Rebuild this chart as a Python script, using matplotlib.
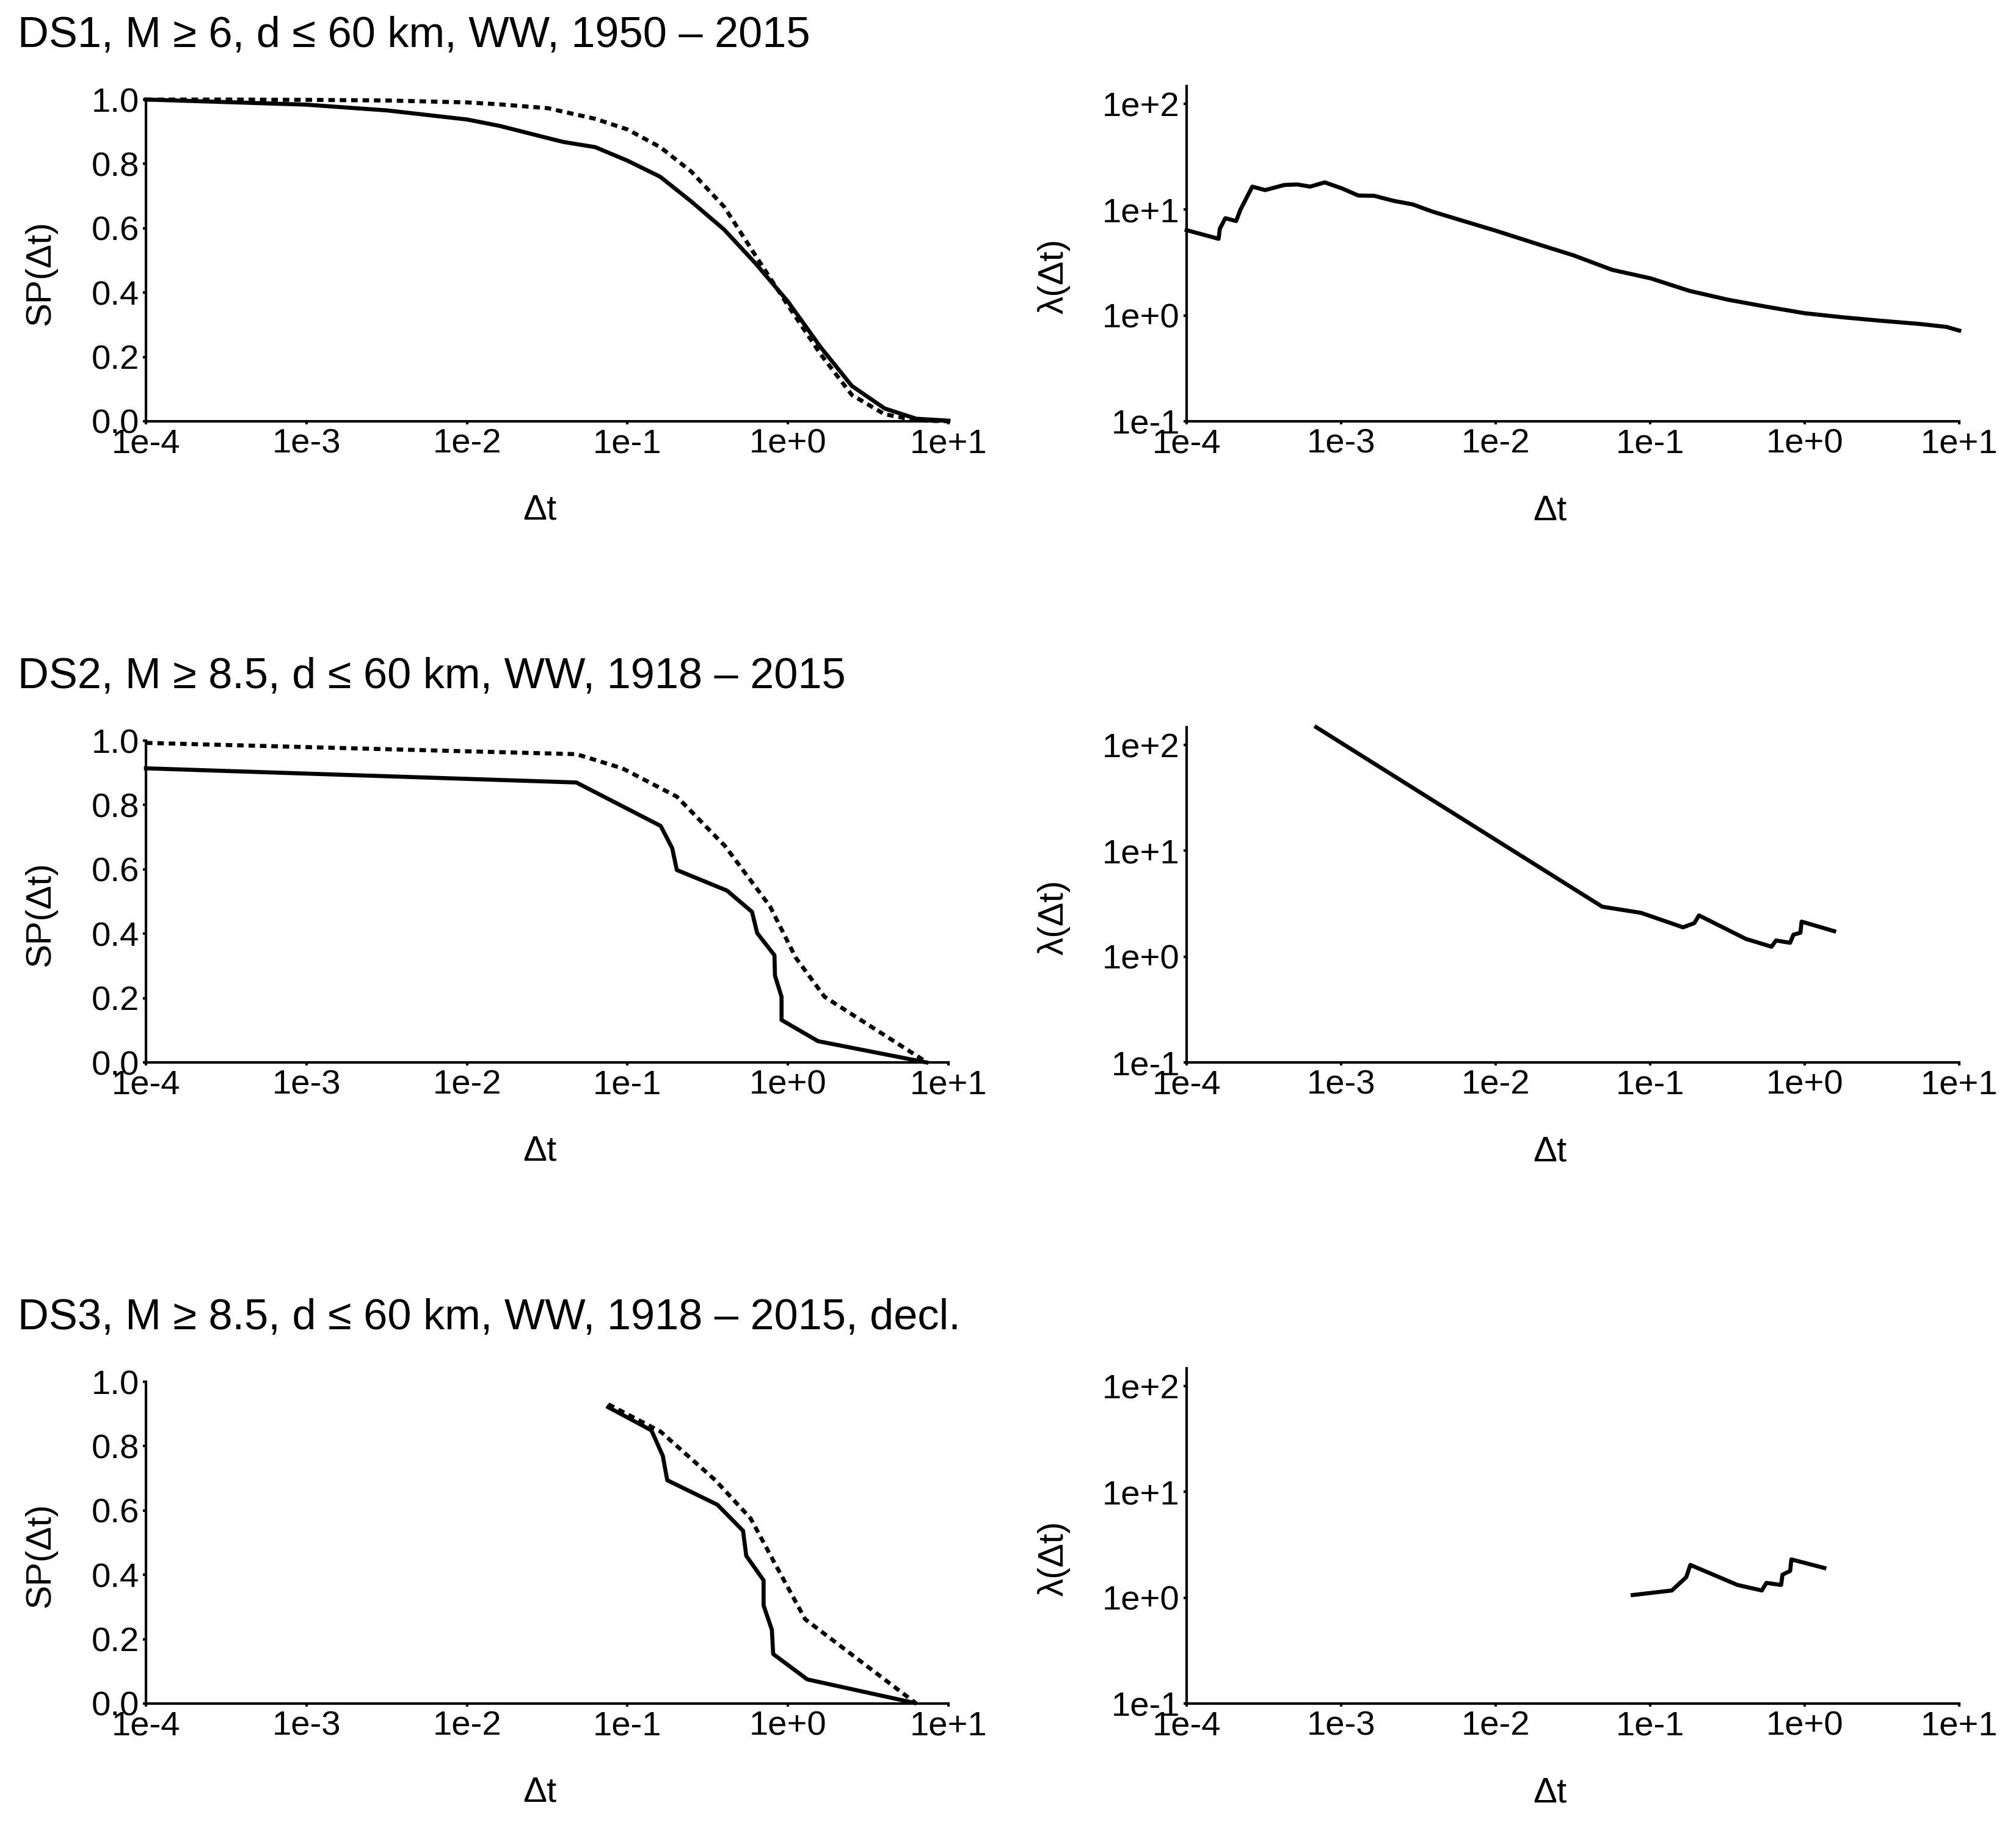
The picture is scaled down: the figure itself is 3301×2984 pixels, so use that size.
import matplotlib
matplotlib.use('Agg')
import matplotlib.pyplot as plt
import matplotlib.ticker as ticker

plt.rcParams['font.family'] = ['Liberation Sans', 'DejaVu Sans']

# ── Data ──────────────────────────────────────────────────────────────────────
TITLES = [
    'DS1, M \u2265 6, d \u2264 60 km, WW, 1950 \u2013 2015',
    'DS2, M \u2265 8.5, d \u2264 60 km, WW, 1918 \u2013 2015',
    'DS3, M \u2265 8.5, d \u2264 60 km, WW, 1918 \u2013 2015, decl.',
]

X_TICKS = [1e-4, 1e-3, 1e-2, 1e-1, 1e0, 1e1]
X_TICKLABELS = ['1e-4', '1e-3', '1e-2', '1e-1', '1e+0', '1e+1']
SP_TICKS = [0.0, 0.2, 0.4, 0.6, 0.8, 1.0]
SP_TICKLABELS = ['0.0', '0.2', '0.4', '0.6', '0.8', '1.0']
LAM_TICKS = [1e-1, 1e0, 1e1, 1e2]
LAM_TICKLABELS = ['1e-1', '1e+0', '1e+1', '1e+2']

# DS1 survival probability (solid = observed, dotted = reference)
ds1_t = [1e-4, 3.2e-4, 1e-3, 3.2e-3, 1e-2, 1.6e-2, 3.2e-2, 4e-2, 6.3e-2, 0.1,
         0.16, 0.25, 0.4, 0.63, 1.0, 1.6, 2.5, 4.0, 6.3, 10.0]
ds1_sp = [1.0, 0.992, 0.984, 0.966, 0.938, 0.918, 0.88, 0.868, 0.852, 0.81,
          0.76, 0.683, 0.596, 0.49, 0.372, 0.23, 0.11, 0.04, 0.008, 0.002]
ds1_sp_ref = [1.0, 1.0, 0.999, 0.997, 0.991, 0.985, 0.973, 0.962, 0.94, 0.907,
              0.852, 0.776, 0.667, 0.514, 0.36, 0.208, 0.082, 0.022, 0.003, 0.0]

# DS1 rate
ds1_lam_t = [1.0e-4, 1.61e-4, 1.64e-4, 1.78e-4, 2.09e-4, 2.23e-4, 2.66e-4, 3.22e-4,
             4.29e-4, 5.19e-4, 6.3e-4, 7.83e-4, 1.02e-3, 1.29e-3, 1.64e-3, 2.19e-3,
             2.91e-3, 3.88e-3, 5.7e-3, 1.01e-2, 1.98e-2, 3.19e-2, 5.67e-2, 0.101,
             0.179, 0.318, 0.565, 1.0, 1.78, 3.16, 5.62, 8.26, 10.0]
ds1_lam = [6.4, 5.3, 6.6, 8.3, 7.8, 10.0, 16.5, 15.3, 17.1, 17.3, 16.5, 18.1, 15.8,
           13.6, 13.5, 12.1, 11.2, 9.6, 8.1, 6.3, 4.6, 3.7, 2.7, 2.24, 1.71, 1.41,
           1.21, 1.05, 0.96, 0.89, 0.83, 0.78, 0.72]

# DS2
ds2_t = [1e-4, 0.048, 0.161, 0.19, 0.203, 0.417, 0.597, 0.643, 0.824, 0.83,
         0.912, 0.912, 1.54, 7.3]
ds2_sp = [0.914, 0.870, 0.735, 0.666, 0.598, 0.534, 0.468, 0.402, 0.333, 0.27,
          0.204, 0.132, 0.066, 0.0]
ds2_ref_t = [1e-4, 0.048, 0.093, 0.203, 0.406, 0.773, 1.12, 1.69, 7.1]
ds2_sp_ref = [0.993, 0.958, 0.914, 0.826, 0.672, 0.485, 0.325, 0.204, 0.005]

ds2_lam_t = [6.9e-4, 0.049, 0.0873, 0.163, 0.193, 0.207, 0.416, 0.61, 0.652,
             0.805, 0.845, 0.938, 0.955, 1.55]
ds2_lam = [147, 2.96, 2.59, 1.89, 2.07, 2.45, 1.47, 1.24, 1.42, 1.35, 1.61,
           1.68, 2.14, 1.74]

# DS3 (declustered)
ds3_t = [0.0759, 0.141, 0.166, 0.177, 0.363, 0.525, 0.55, 0.705, 0.705, 0.794,
         0.809, 1.32, 6.14]
ds3_sp = [0.921, 0.849, 0.77, 0.694, 0.618, 0.537, 0.459, 0.383, 0.305, 0.229,
          0.154, 0.075, 0.002]
ds3_ref_t = [0.0759, 0.161, 0.353, 0.586, 0.809, 1.28, 6.31]
ds3_sp_ref = [0.93, 0.845, 0.694, 0.575, 0.445, 0.262, 0.0]

ds3_lam_t = [0.0771, 0.138, 0.171, 0.182, 0.367, 0.528, 0.565, 0.704, 0.718,
             0.805, 0.82, 1.34]
ds3_lam = [1.06, 1.17, 1.56, 2.04, 1.32, 1.17, 1.38, 1.32, 1.65, 1.79, 2.30, 1.91]

ROWS = [
    (ds1_t, ds1_sp, ds1_t, ds1_sp_ref, ds1_lam_t, ds1_lam),
    (ds2_t, ds2_sp, ds2_ref_t, ds2_sp_ref, ds2_lam_t, ds2_lam),
    (ds3_t, ds3_sp, ds3_ref_t, ds3_sp_ref, ds3_lam_t, ds3_lam),
]

# ── Layout (pixels of a 3301x2984 canvas) ─────────────────────────────────────
W, H = 3301, 2984
fig = plt.figure(figsize=(W / 300, H / 300), dpi=300)

ROW_BOTTOMS = [690, 1740, 2790]
LINE_W = 1.6
DOTTED = (0, (1.6, 1.2))


def style_axis(ax):
    for side in ['top', 'right']:
        ax.spines[side].set_visible(False)
    for side in ['left', 'bottom']:
        ax.spines[side].set_linewidth(1.0)
    ax.tick_params(direction='out', length=1.2, width=1.0,
                   labelsize=13.5, pad=1.5)
    ax.xaxis.set_minor_locator(ticker.NullLocator())
    ax.yaxis.set_minor_locator(ticker.NullLocator())


for r, (t, sp, t_ref, sp_ref, lt, lam) in enumerate(ROWS):
    b = ROW_BOTTOMS[r]
    fig.text(29 / W, 1 - (77 + 1050 * r) / H, TITLES[r], fontsize=16.9,
             ha='left', va='baseline')

    # survival probability panel
    ax = fig.add_axes([239 / W, 1 - b / H, 1314 / W, 527 / H])
    ax.plot(t, sp, color='black', linewidth=LINE_W, clip_on=False)
    ax.plot(t_ref, sp_ref, color='black', linewidth=LINE_W, linestyle=DOTTED,
            clip_on=False)
    ax.set_xscale('log')
    ax.set_xlim(1e-4, 1e1)
    ax.set_ylim(0, 1)
    ax.set_xticks(X_TICKS)
    ax.set_xticklabels(X_TICKLABELS)
    ax.set_yticks(SP_TICKS)
    ax.set_yticklabels(SP_TICKLABELS)
    style_axis(ax)
    ax.set_xlabel('\u0394t', fontsize=14)
    ax.xaxis.set_label_coords(0.491, -0.277)
    ax.xaxis.label.set_va('center')
    ax.set_ylabel('SP(\u0394t)', fontsize=14)
    ax.yaxis.set_label_coords(-0.131, 0.461)
    ax.yaxis.label.set_va('center')

    # rate panel
    ax2 = fig.add_axes([1943 / W, 1 - b / H, 1265 / W, 549 / H])
    ax2.plot(lt, lam, color='black', linewidth=LINE_W, clip_on=False)
    ax2.set_xscale('log')
    ax2.set_yscale('log')
    ax2.set_xlim(1e-4, 1e1)
    ax2.set_ylim(0.1, 147)
    ax2.set_xticks(X_TICKS)
    ax2.set_xticklabels(X_TICKLABELS)
    ax2.set_yticks(LAM_TICKS)
    ax2.set_yticklabels(LAM_TICKLABELS)
    style_axis(ax2)
    ax2.set_xlabel('\u0394t', fontsize=14)
    ax2.xaxis.set_label_coords(0.47, -0.266)
    ax2.xaxis.label.set_va('center')
    ax2.set_ylabel('\u03bb(\u0394t)', fontsize=14)
    ax2.yaxis.set_label_coords(-0.1715, 0.432)
    ax2.yaxis.label.set_va('center')

fig.savefig('out.png', dpi=300)
